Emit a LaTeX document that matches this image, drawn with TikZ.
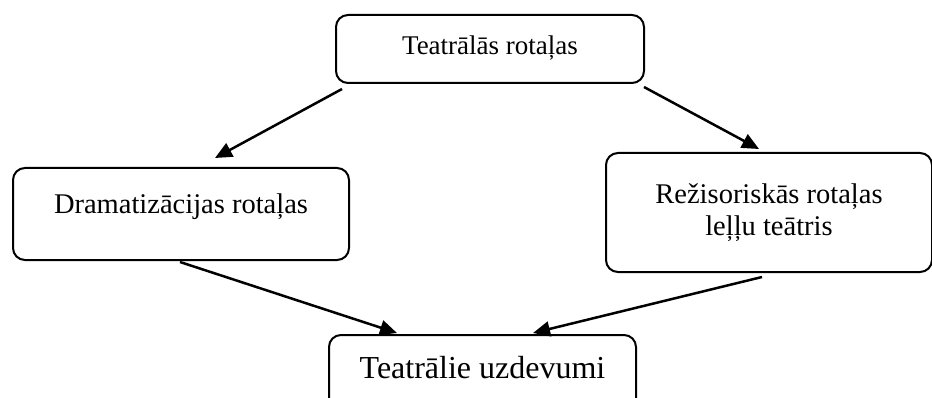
\documentclass[tikz,border=0pt]{standalone}
\usepackage{fontspec}
\setmainfont{Liberation Serif}
\usetikzlibrary{arrows.meta}
\tikzset{
  box/.style={draw, line width=2pt, rounded corners=12pt, inner sep=0pt, anchor=north west},
  arr/.style={line width=2.5pt, -{Triangle[length=17pt,width=15pt]}},
}
\begin{document}
\begin{tikzpicture}[x=1pt,y=1pt]
\useasboundingbox (0,0) rectangle (932,397);
\node[box, minimum width=308pt, text height=39.5pt, text depth=28.5pt, font=\fontsize{27}{32}\selectfont] (t) at (335,383) {Teatrālās rotaļas};
\node[box, minimum width=336pt, text height=45pt, text depth=47pt, font=\fontsize{28.5}{33}\selectfont] (d) at (12,230) {Dramatizācijas rotaļas};
\node[box, align=center, minimum width=326pt, minimum height=119pt, font=\fontsize{28.5}{32}\selectfont] (r) at (605,245) {Režisoriskās rotaļas\\leļļu teātris};
\node[box, minimum width=307pt, text height=43pt, text depth=43pt, font=\fontsize{32}{38}\selectfont] (b) at (328,63) {Teatrālie uzdevumi};
\draw[arr] ([shift={(7,-5)}]t.south west) -- ([shift={(203,9)}]d.north west);
\draw[arr] ([shift={(-1,-3)}]t.south east) -- ([shift={(154,3)}]r.north west);
\draw[arr] ([shift={(168,-1)}]d.south west) -- ([shift={(69,1)}]b.north west);
\draw[arr] ([shift={(157,-4)}]r.south west) -- ([shift={(205,1)}]b.north west);
\end{tikzpicture}
\end{document}
